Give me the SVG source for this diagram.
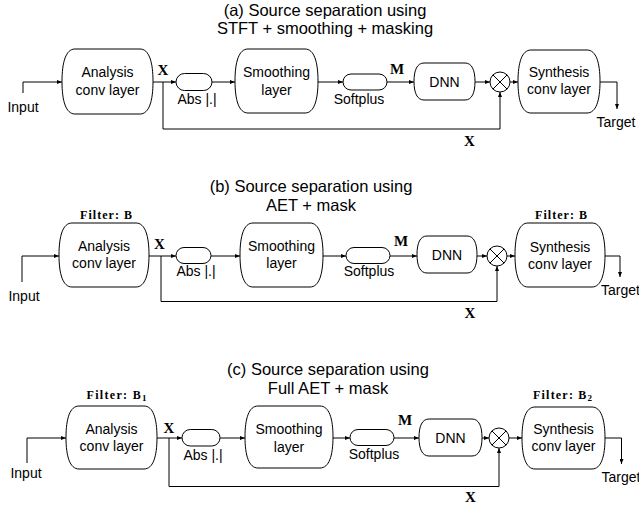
<svg xmlns="http://www.w3.org/2000/svg" width="639" height="508" viewBox="0 0 639 508">
<style>
.t{font-family:"Liberation Sans",Arial,sans-serif;font-size:14px;text-anchor:middle;fill:#000}
.h{font-family:"Liberation Sans",Arial,sans-serif;font-size:16.5px;text-anchor:middle;fill:#000}
.m{font-family:"Liberation Serif","Times New Roman",serif;font-weight:bold;font-size:15px;text-anchor:middle;fill:#000}
.f{font-family:"Liberation Serif","Times New Roman",serif;font-weight:bold;font-size:12px;text-anchor:middle;fill:#000}
.b{fill:#fff;stroke:#000;stroke-width:1}
.c{fill:none;stroke:#000;stroke-width:1}
.a{fill:none;stroke:#000;stroke-width:1;marker-end:url(#ah)}
</style>
<defs>
<marker id="ah" markerUnits="userSpaceOnUse" markerWidth="5" markerHeight="4" refX="5" refY="2" orient="auto"><path d="M0,0 L5,2 L0,4 Z" fill="#000"/></marker>
</defs>
<rect width="639" height="508" fill="#fff"/>

<g id="titles">
<text class="h" x="325" y="15.5">(a) Source separation using</text>
<text class="h" x="325" y="34">STFT + smoothing + masking</text>
<text class="h" x="311" y="191.5">(b) Source separation using</text>
<text class="h" x="311" y="210.5">AET + mask</text>
<text class="h" x="328" y="375">(c) Source separation using</text>
<text class="h" x="328" y="394">Full AET + mask</text>
</g>

<g id="connectors">
<!-- panel a -->
<path class="a" d="M23,93 V82 H62"/>
<path class="a" d="M153,82 H176"/>
<path class="a" d="M212,82 H235"/>
<path class="a" d="M318,82 H343"/>
<path class="a" d="M387,82 H414"/>
<path class="a" d="M475,82 H490"/>
<path class="a" d="M510,82 H518"/>
<path class="a" d="M600,82 H617 V109"/>
<path class="a" d="M163,82 V129 H500 V92"/>
<!-- panel b -->
<path class="a" d="M22,282 V256 H59"/>
<path class="a" d="M149,256 H176"/>
<path class="a" d="M211,256 H240"/>
<path class="a" d="M323,256 H346"/>
<path class="a" d="M390,256 H417"/>
<path class="a" d="M477,256 H487"/>
<path class="a" d="M507,256 H515"/>
<path class="a" d="M605,256 H620 V277"/>
<path class="a" d="M161,256 V301.5 H497 V266"/>
<!-- panel c -->
<path class="a" d="M27,463 V438 H66"/>
<path class="a" d="M157,438 H182"/>
<path class="a" d="M220,438 H245"/>
<path class="a" d="M333,438 H350"/>
<path class="a" d="M394,438 H419"/>
<path class="a" d="M482,438 H489"/>
<path class="a" d="M509,438 H522"/>
<path class="a" d="M605,438 H621.5 V464"/>
<path class="a" d="M169,438 V486.5 H499 V448"/>
</g>

<g id="labels">
<text class="t" x="23" y="112">Input</text>
<text class="m" x="163" y="75">X</text>
<text class="m" x="397" y="74">M</text>
<text class="m" x="469.5" y="146">X</text>
<text class="t" x="616" y="127">Target</text>

<text class="t" x="24" y="301">Input</text>
<text class="m" x="159.5" y="249">X</text>
<text class="m" x="401" y="246">M</text>
<text class="m" x="470" y="318">X</text>
<text class="t" x="620.5" y="295">Target</text>

<text class="t" x="26" y="478">Input</text>
<text class="m" x="169" y="433">X</text>
<text class="m" x="405" y="425">M</text>
<text class="m" x="470.5" y="502">X</text>
<text class="t" x="621" y="481.5">Target</text>
</g>

<!-- panel a nodes -->
<g id="a-analysis" transform="translate(62,49)">
<path class="b" d="M13,0 H78 C87.1,0 91,13 91,32.5 C91,52 87.1,65 78,65 H13 C3.9,65 0,52 0,32.5 C0,13 3.9,0 13,0 Z"/>
<text class="t" x="45.5" y="28">Analysis</text>
<text class="t" x="45.5" y="46">conv layer</text>
</g>
<g id="a-abs">
<rect class="b" x="176" y="73.5" width="36" height="17" rx="8.5"/>
<text class="t" x="197" y="104">Abs |.|</text>
</g>
<g id="a-smoothing" transform="translate(235,49)">
<path class="b" d="M13,0 H70 C79.1,0 83,12.8 83,32 C83,51.2 79.1,64 70,64 H13 C3.9,64 0,51.2 0,32 C0,12.8 3.9,0 13,0 Z"/>
<text class="t" x="41.5" y="28">Smoothing</text>
<text class="t" x="41.5" y="46">layer</text>
</g>
<g id="a-softplus">
<rect class="b" x="343" y="74" width="44" height="16" rx="8"/>
<text class="t" x="359" y="104">Softplus</text>
</g>
<g id="a-dnn" transform="translate(414,63)">
<path class="b" d="M10,0 H51 C58,0 61,7.4 61,18.5 C61,29.6 58,37 51,37 H10 C3,37 0,29.6 0,18.5 C0,7.4 3,0 10,0 Z"/>
<text class="t" x="30.5" y="24">DNN</text>
</g>
<g id="a-mult">
<circle class="b" cx="500" cy="82" r="10"/>
<path class="c" d="M492.9,74.9 L507.1,89.1 M507.1,74.9 L492.9,89.1"/>
</g>
<g id="a-synthesis" transform="translate(518,50)">
<path class="b" d="M13,0 H69 C78.1,0 82,12.6 82,31.5 C82,50.4 78.1,63 69,63 H13 C3.9,63 0,50.4 0,31.5 C0,12.6 3.9,0 13,0 Z"/>
<text class="t" x="41" y="27">Synthesis</text>
<text class="t" x="41" y="44">conv layer</text>
</g>

<!-- panel b nodes -->
<g id="b-analysis" transform="translate(59,223)">
<text class="f" x="47" y="-4" textLength="52">Filter: B</text>
<path class="b" d="M13,0 H77 C86.1,0 90,12.8 90,32 C90,51.2 86.1,64 77,64 H13 C3.9,64 0,51.2 0,32 C0,12.8 3.9,0 13,0 Z"/>
<text class="t" x="45" y="28">Analysis</text>
<text class="t" x="45" y="45">conv layer</text>
</g>
<g id="b-abs">
<rect class="b" x="176" y="247.5" width="35" height="16" rx="8"/>
<text class="t" x="196" y="276">Abs |.|</text>
</g>
<g id="b-smoothing" transform="translate(240,223)">
<path class="b" d="M13,0 H70 C79.1,0 83,12.8 83,32 C83,51.2 79.1,64 70,64 H13 C3.9,64 0,51.2 0,32 C0,12.8 3.9,0 13,0 Z"/>
<text class="t" x="41.5" y="28">Smoothing</text>
<text class="t" x="41.5" y="45">layer</text>
</g>
<g id="b-softplus">
<rect class="b" x="346" y="247.5" width="44" height="16" rx="8"/>
<text class="t" x="369" y="276">Softplus</text>
</g>
<g id="b-dnn" transform="translate(417,236)">
<path class="b" d="M10,0 H50 C57,0 60,7.4 60,18.5 C60,29.6 57,37 50,37 H10 C3,37 0,29.6 0,18.5 C0,7.4 3,0 10,0 Z"/>
<text class="t" x="30" y="24">DNN</text>
</g>
<g id="b-mult">
<circle class="b" cx="497" cy="256" r="10"/>
<path class="c" d="M489.9,248.9 L504.1,263.1 M504.1,248.9 L489.9,263.1"/>
</g>
<g id="b-synthesis" transform="translate(515,223)">
<text class="f" x="46" y="-4" textLength="52">Filter: B</text>
<path class="b" d="M13,0 H77 C86.1,0 90,12.8 90,32 C90,51.2 86.1,64 77,64 H13 C3.9,64 0,51.2 0,32 C0,12.8 3.9,0 13,0 Z"/>
<text class="t" x="45" y="29">Synthesis</text>
<text class="t" x="45" y="46">conv layer</text>
</g>

<!-- panel c nodes -->
<g id="c-analysis" transform="translate(66,406)">
<text class="f" x="50.5" y="-7" textLength="60">Filter: B<tspan font-size="9" dy="2">1</tspan></text>
<path class="b" d="M13,0 H78 C87.1,0 91,12.6 91,31.5 C91,50.4 87.1,63 78,63 H13 C3.9,63 0,50.4 0,31.5 C0,12.6 3.9,0 13,0 Z"/>
<text class="t" x="45.5" y="27.5">Analysis</text>
<text class="t" x="45.5" y="45">conv layer</text>
</g>
<g id="c-abs">
<rect class="b" x="182" y="429.5" width="38" height="16.5" rx="8.25"/>
<text class="t" x="203" y="460">Abs |.|</text>
</g>
<g id="c-smoothing" transform="translate(245,406)">
<path class="b" d="M13,0 H75 C84.1,0 88,12.4 88,31 C88,49.6 84.1,62 75,62 H13 C3.9,62 0,49.6 0,31 C0,12.4 3.9,0 13,0 Z"/>
<text class="t" x="44" y="28">Smoothing</text>
<text class="t" x="44" y="45.5">layer</text>
</g>
<g id="c-softplus">
<rect class="b" x="350" y="429.5" width="44" height="16" rx="8"/>
<text class="t" x="374" y="459">Softplus</text>
</g>
<g id="c-dnn" transform="translate(419,419)">
<path class="b" d="M10,0 H53 C60,0 63,7.4 63,18.5 C63,29.6 60,37 53,37 H10 C3,37 0,29.6 0,18.5 C0,7.4 3,0 10,0 Z"/>
<text class="t" x="31.5" y="24">DNN</text>
</g>
<g id="c-mult">
<circle class="b" cx="499" cy="438" r="10"/>
<path class="c" d="M491.9,430.9 L506.1,445.1 M506.1,430.9 L491.9,445.1"/>
</g>
<g id="c-synthesis" transform="translate(522,407)">
<text class="f" x="40.5" y="-8" textLength="59">Filter: B<tspan font-size="9" dy="2">2</tspan></text>
<path class="b" d="M13,0 H70 C79.1,0 83,12.4 83,31 C83,49.6 79.1,62 70,62 H13 C3.9,62 0,49.6 0,31 C0,12.4 3.9,0 13,0 Z"/>
<text class="t" x="41.5" y="27">Synthesis</text>
<text class="t" x="41.5" y="44">conv layer</text>
</g>
</svg>
